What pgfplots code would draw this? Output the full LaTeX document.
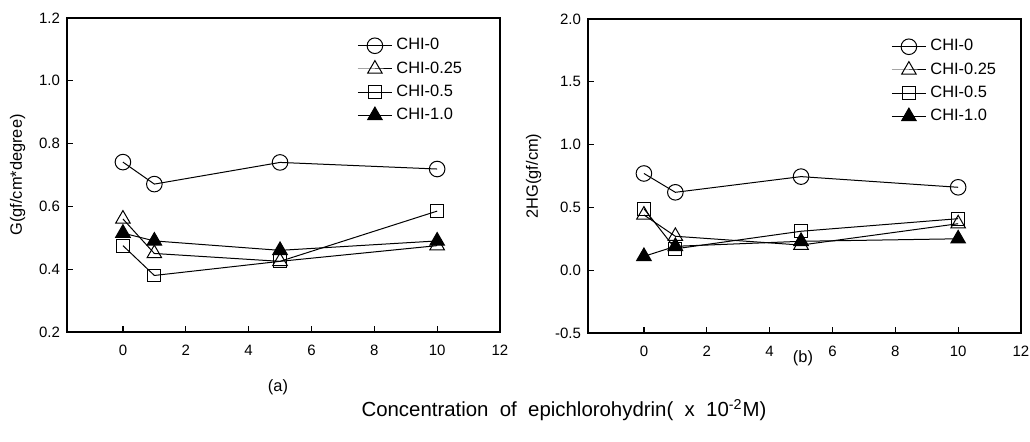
\documentclass[border=0pt]{standalone}
\usepackage{fontspec}
\setmainfont{Liberation Sans}
\usepackage{pgfplots}
\pgfplotsset{compat=1.18}

\pgfplotsset{
  panel/.style={
    scale only axis, anchor=south west,
    width=216.5pt, height=157pt,
    xmin=-1.78, xmax=12,
    xtick={0,2,...,12},
    tick pos=left, tick align=inside,
    major tick length=3pt,
    axis line style={line width=0.7pt},
    every tick/.style={black, line width=0.6pt},
    /pgf/number format/assume math mode=true,
    tick label style={font=\fontsize{7.5}{9}\selectfont},
    xticklabel style={yshift=-3pt},
    yticklabel style={/pgf/number format/fixed,
      /pgf/number format/fixed zerofill,
      /pgf/number format/precision=1},
    label style={font=\fontsize{8.2}{9.6}\selectfont},
    legend style={draw=none, fill=none, anchor=north west,
      font=\fontsize{8.2}{9.6}\selectfont,
      row sep=0.4pt, inner sep=1pt},
    legend cell align=left,
    every axis plot/.append style={black, line width=0.5pt},
  },
  s0/.style={mark=o, mark size=3.9pt},
  s1/.style={mark=triangle, mark size=4.2pt},
  s2/.style={mark=square, mark size=3.2pt},
  s3/.style={mark=triangle*, mark size=4.2pt, mark options={fill=black}},
}

\begin{document}
\begin{tikzpicture}
\path[use as bounding box] (0,0) rectangle (515pt,221pt);

\begin{axis}[panel, at={(33.5pt,55pt)},
  ymin=0.2, ymax=1.2, ytick={0.2,0.4,...,1.2},
  ylabel={G(gf/cm*degree)},
  legend style={at={(0.665,0.955)}}]
\addplot[s0] coordinates {(0,0.741) (1,0.671) (5,0.740) (10,0.719)};
\addplot[s1] coordinates {(0,0.560) (1,0.450) (5,0.425) (10,0.475)};
\addplot[s2] coordinates {(0,0.475) (1,0.380) (5,0.425) (10,0.585)};
\addplot[s3] coordinates {(0,0.515) (1,0.490) (5,0.460) (10,0.490)};
\legend{CHI-0,CHI-0.25,CHI-0.5,CHI-1.0}
\end{axis}

\begin{axis}[panel, at={(294pt,54.5pt)},
  ymin=-0.5, ymax=2.0, ytick={-0.5,0,...,2.0},
  ylabel={2HG(gf/cm)},
  legend style={at={(0.695,0.955)}}]
\addplot[s0] coordinates {(0,0.77) (1,0.62) (5,0.745) (10,0.66)};
\addplot[s1] coordinates {(0,0.44) (1,0.27) (5,0.20) (10,0.37)};
\addplot[s2] coordinates {(0,0.49) (1,0.17) (5,0.31) (10,0.41)};
\addplot[s3] coordinates {(0,0.11) (1,0.19) (5,0.23) (10,0.25)};
\legend{CHI-0,CHI-0.25,CHI-0.5,CHI-1.0}
\end{axis}

\node[font=\fontsize{8.2}{9.6}\selectfont] at (139pt,27.5pt) {(a)};
\node[font=\fontsize{8.2}{9.6}\selectfont] at (401.5pt,42pt) {(b)};
\node[font=\fontsize{10.2}{12}\selectfont] at (282pt,16pt)
  {Concentration\ \ of\ \ epichlorohydrin(\ \ x\ \ 10\textsuperscript{-2}M)};
\end{tikzpicture}
\end{document}
